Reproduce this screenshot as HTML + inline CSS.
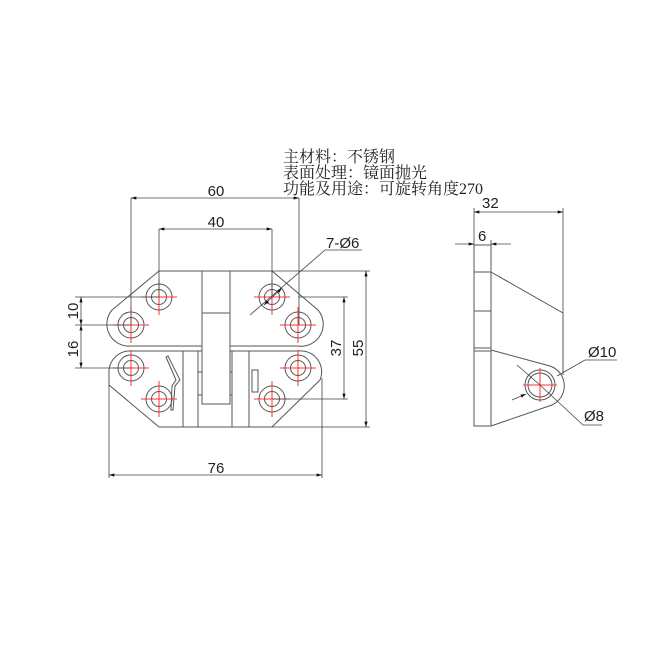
<!DOCTYPE html>
<html><head><style>
html,body{margin:0;padding:0;background:#fff;}
svg{display:block;}
.t{font-family:"Liberation Sans","DejaVu Sans",sans-serif;font-size:15px;fill:#222;}
.c{font-family:"Liberation Serif","Noto Serif CJK SC",serif;font-size:16px;fill:#222;}
</style></head><body>
<svg width="650" height="650" viewBox="0 0 650 650" xmlns="http://www.w3.org/2000/svg">
<defs>
<marker id="a" viewBox="0 0 10 6" refX="10" refY="3" markerWidth="8" markerHeight="4" orient="auto-start-reverse"><path d="M0,0L10,3L0,6z" fill="#111"/></marker>
</defs>
<text class="c" x="283" y="162">主材料：不锈钢</text>
<text class="c" x="283" y="178">表面处理：镜面抛光</text>
<text class="c" x="283" y="194">功能及用途：可旋转角度270</text>

<g fill="none" stroke="#555" stroke-width="1">
<path d="M159,271 L272,271 L318,310 A22,22 0 0 1 298,346 L131,346 A22,22 0 0 1 112,310 Z"/>
<path d="M131,351 L298,351 A21,21 0 0 1 320,380 L272,427 L159,427 L109,385 L109,370 A21,21 0 0 1 131,351 Z"/>
<rect x="202" y="271" width="28" height="133" fill="#fff"/>
<line x1="202" y1="313" x2="230" y2="313"/>
<line x1="183" y1="351" x2="183" y2="427"/>
<line x1="198" y1="351" x2="198" y2="427"/>
<line x1="232" y1="351" x2="232" y2="427"/>
<line x1="249" y1="351" x2="249" y2="427"/>
<line x1="198" y1="372" x2="202" y2="372"/><line x1="198" y1="395" x2="202" y2="395"/>
<line x1="230" y1="372" x2="232" y2="372"/><line x1="230" y1="395" x2="232" y2="395"/>
<path d="M166,357 L176,380 L172,386 L171,410 L173,410 L175,386 L180,380 L168,356 Z"/>
<rect x="252" y="370" width="6" height="22"/>
<g>
<circle cx="131" cy="325" r="13"/><circle cx="131" cy="325" r="7.5"/>
<circle cx="159" cy="297" r="13"/><circle cx="159" cy="297" r="7.5"/>
<circle cx="272" cy="297" r="13"/><circle cx="272" cy="297" r="7.5"/>
<circle cx="298" cy="325" r="13"/><circle cx="298" cy="325" r="7.5"/>
<circle cx="131" cy="368" r="13"/><circle cx="131" cy="368" r="7.5"/>
<circle cx="159" cy="399" r="13"/><circle cx="159" cy="399" r="7.5"/>
<circle cx="272" cy="399" r="13"/><circle cx="272" cy="399" r="7.5"/>
<circle cx="298" cy="368" r="13"/><circle cx="298" cy="368" r="7.5"/>
</g>
</g>
<g stroke="#f33" stroke-width="1">
<path d="M113,325h36M131,307v36 M141,297h36M159,279v36 M254,297h36M272,279v36 M280,325h36M298,307v36 M113,368h36M131,350v36 M141,399h36M159,381v36 M254,399h36M272,381v36 M280,368h36M298,350v36"/>
</g>
<g fill="none" stroke="#444" stroke-width="0.8">
<path d="M131,198V325 M299,198V325 M159,229V297 M272,229V297 M109,385V478 M322,378V478"/>
<path d="M272,271H370 M272,427H370 M298,297H348 M272,399H348"/>
<path d="M75,297H159 M75,325H131 M75,368H131"/>
<line x1="131" y1="198" x2="299" y2="198" marker-start="url(#a)" marker-end="url(#a)"/>
<line x1="159" y1="229" x2="272" y2="229" marker-start="url(#a)" marker-end="url(#a)"/>
<line x1="109" y1="475" x2="322" y2="475" marker-start="url(#a)" marker-end="url(#a)"/>
<line x1="366" y1="271" x2="366" y2="427" marker-start="url(#a)" marker-end="url(#a)"/>
<line x1="344" y1="297" x2="344" y2="399" marker-start="url(#a)" marker-end="url(#a)"/>
<line x1="81" y1="297" x2="81" y2="325" marker-start="url(#a)" marker-end="url(#a)"/>
<line x1="81" y1="325" x2="81" y2="368" marker-start="url(#a)" marker-end="url(#a)"/>
<path d="M362,250H325L250,315"/>
<line x1="282" y1="288" x2="264" y2="305" marker-start="url(#a)" marker-end="url(#a)"/>
</g>
<text class="t" x="216" y="196" text-anchor="middle">60</text>
<text class="t" x="216" y="227" text-anchor="middle">40</text>
<text class="t" x="216" y="473" text-anchor="middle">76</text>
<text class="t" x="326" y="248">7-Ø6</text>
<text class="t" transform="translate(341,348) rotate(-90)" text-anchor="middle">37</text>
<text class="t" transform="translate(363,348) rotate(-90)" text-anchor="middle">55</text>
<text class="t" transform="translate(78,311) rotate(-90)" text-anchor="middle">10</text>
<text class="t" transform="translate(78,349) rotate(-90)" text-anchor="middle">16</text>

<g fill="none" stroke="#555" stroke-width="1">
<rect x="474" y="245" width="17" height="181"/>
<path d="M474,272H491 M474,311H491 M474,348H491 M474,351H491"/>
<path d="M491,272L563,313V375"/>
<path d="M491,350L550,366 A21,21 0 0 1 552,405 L491,426"/>
<circle cx="540" cy="385" r="15"/><circle cx="540" cy="385" r="12"/>
</g>
<path d="M523,385h34M540,368v34" stroke="#f33" stroke-width="1"/>
<g fill="none" stroke="#444" stroke-width="0.8">
<path d="M474,208V245 M563,208V313 M491,240V245"/>
<line x1="474" y1="212" x2="563" y2="212" marker-start="url(#a)" marker-end="url(#a)"/>
<line x1="455" y1="244" x2="474" y2="244" marker-end="url(#a)"/>
<line x1="511" y1="244" x2="491" y2="244" marker-end="url(#a)"/>
<path d="M617,360H585L557,376"/>
<path d="M602,425H583L540,385 L517,365"/>
<line x1="512" y1="400" x2="526" y2="394" marker-end="url(#a)"/>
</g>
<text class="t" x="482" y="208">32</text>
<text class="t" x="478" y="241">6</text>
<text class="t" x="588" y="357">Ø10</text>
<text class="t" x="584" y="421">Ø8</text>
</svg>
</body></html>
